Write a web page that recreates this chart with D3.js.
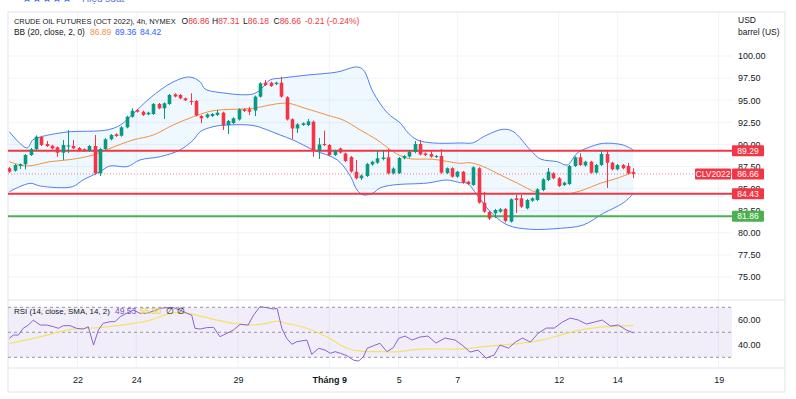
<!DOCTYPE html>
<html>
<head>
<meta charset="utf-8">
<script src="https://cdn.jsdelivr.net/npm/d3@7"></script>
<style>
    body { margin: 0; background: #fff; }
    svg { display: block; font-family: "Liberation Sans", Arial, sans-serif; }
</style>
</head>
<body>
<div id="chart"></div>
<script>
// 4h candles, [open, high, low, close]
const candles = [
    [87.30, 87.44, 86.76, 86.91], [87.03, 87.78, 86.91, 87.67], [87.56, 87.84, 87.22, 87.75], [87.75, 88.91, 87.18, 88.80],
    [88.80, 89.59, 88.69, 89.45], [89.45, 91.01, 89.35, 90.87], [90.84, 90.95, 89.82, 89.93], [90.05, 90.38, 89.71, 89.82],
    [89.85, 89.96, 89.42, 89.54], [89.67, 89.78, 88.61, 89.06], [89.06, 90.50, 88.24, 89.93], [89.76, 91.63, 89.03, 89.88],
    [89.82, 90.50, 89.48, 89.56], [89.59, 89.70, 89.20, 89.33], [89.45, 89.55, 89.13, 89.25], [89.25, 89.93, 89.14, 89.82],
    [89.82, 91.06, 86.60, 86.73], [86.73, 89.60, 86.43, 89.48], [89.48, 90.70, 89.37, 90.58], [90.58, 91.17, 90.47, 91.06],
    [91.14, 91.25, 90.84, 90.95], [90.98, 92.05, 90.87, 91.93], [91.93, 93.24, 91.82, 93.13], [93.13, 94.08, 93.02, 93.81],
    [93.89, 94.00, 93.60, 93.70], [93.70, 93.81, 93.22, 93.33], [93.40, 93.70, 93.30, 93.59], [93.44, 94.68, 93.33, 94.57],
    [94.57, 94.68, 93.97, 94.08], [94.08, 94.76, 92.87, 94.65], [94.57, 95.70, 94.46, 95.59], [95.67, 95.78, 95.31, 95.42],
    [95.59, 95.70, 95.10, 95.21], [95.21, 95.30, 94.90, 94.99], [94.91, 95.78, 94.46, 94.80], [94.91, 95.00, 93.16, 93.27],
    [93.21, 93.30, 92.39, 92.95], [93.07, 93.50, 92.95, 93.40], [93.21, 93.55, 93.10, 93.44], [93.33, 93.89, 93.22, 93.59],
    [93.59, 93.70, 91.63, 92.19], [92.19, 92.76, 91.18, 92.65], [92.42, 93.07, 92.30, 92.95], [92.82, 94.08, 92.70, 93.97],
    [93.97, 94.08, 93.67, 93.78], [93.97, 94.26, 93.33, 93.70], [93.83, 95.52, 93.21, 95.40], [95.40, 97.02, 95.29, 96.91],
    [96.98, 97.29, 96.60, 96.72], [96.98, 97.10, 96.50, 96.61], [96.83, 97.10, 96.70, 96.98], [96.98, 97.66, 95.29, 95.40],
    [95.33, 95.44, 92.70, 92.82], [92.84, 92.95, 90.61, 91.80], [91.80, 92.40, 91.29, 92.27], [92.19, 92.50, 92.10, 92.39],
    [92.19, 92.87, 92.08, 92.61], [92.57, 92.70, 88.61, 89.29], [89.29, 90.72, 88.35, 89.99], [90.05, 91.55, 89.80, 89.93],
    [89.93, 90.05, 88.69, 88.80], [88.80, 89.40, 88.69, 89.29], [89.54, 89.65, 88.97, 89.08], [88.97, 89.08, 88.00, 88.12],
    [88.57, 88.69, 86.80, 86.93], [86.91, 88.24, 86.03, 86.17], [86.17, 86.60, 85.98, 86.48], [86.43, 87.90, 86.30, 87.78],
    [87.73, 88.15, 87.60, 88.04], [87.93, 89.37, 87.80, 88.43], [88.35, 89.37, 88.20, 88.52], [88.54, 89.48, 86.60, 86.73],
    [86.73, 87.40, 86.60, 87.27], [86.76, 88.57, 86.65, 88.46], [88.43, 88.80, 88.30, 88.69], [88.63, 89.30, 88.50, 89.17],
    [89.14, 90.38, 89.00, 90.05], [90.05, 90.50, 88.75, 88.86], [88.97, 89.10, 88.69, 88.80], [88.91, 89.25, 88.50, 88.61],
    [88.57, 88.80, 88.46, 88.69], [88.69, 89.48, 86.68, 86.80], [86.76, 87.40, 86.65, 87.30], [87.30, 87.42, 86.23, 86.35],
    [86.35, 87.00, 86.23, 86.91], [86.91, 87.00, 85.55, 85.67], [85.78, 85.90, 85.40, 85.52], [85.41, 87.53, 85.30, 87.41],
    [87.30, 87.42, 83.30, 83.41], [83.41, 84.62, 82.27, 82.39], [82.35, 82.47, 81.45, 81.62], [82.21, 82.70, 81.67, 82.58],
    [82.39, 82.80, 82.27, 82.66], [82.69, 82.80, 81.17, 81.34], [81.26, 83.90, 81.15, 83.79], [83.90, 84.28, 82.24, 83.71],
    [83.90, 84.28, 82.80, 82.95], [82.77, 83.82, 82.65, 83.71], [83.63, 84.00, 83.50, 83.90], [83.71, 85.03, 83.60, 84.92],
    [84.84, 86.17, 84.70, 86.05], [85.97, 87.33, 85.85, 86.91], [86.73, 86.85, 86.05, 86.17], [86.17, 86.30, 85.18, 85.29],
    [85.41, 85.78, 85.30, 85.67], [85.52, 87.67, 85.40, 87.56], [87.56, 88.65, 87.45, 88.54], [88.54, 88.99, 87.56, 87.67],
    [87.62, 88.15, 87.50, 88.04], [88.04, 88.15, 86.68, 86.80], [86.80, 87.78, 86.68, 87.67], [87.67, 89.25, 87.56, 88.91],
    [88.91, 89.29, 85.07, 87.93], [87.93, 88.04, 87.07, 87.18], [87.18, 87.78, 87.07, 87.67], [87.67, 87.78, 87.18, 87.30],
    [87.56, 87.90, 86.60, 86.73], [86.86, 87.31, 86.18, 86.66]
];

// Bollinger bands (20, 2), [bar, value]
const bbUpper = [
    [0, 91.44], [3.3, 89.59], [4.4, 90.50], [5.8, 90.84], [10.8, 91.40], [18.3, 91.63], [20.8, 92.19], [23.2, 93.44],
    [26.4, 95.25], [30.7, 97.06], [33.9, 97.62], [35.8, 97.06], [36.7, 96.27], [39.5, 95.87], [45.7, 95.70], [47.4, 96.38],
    [48.9, 97.29], [51.2, 97.51], [56, 97.85], [61.5, 98.19], [65.2, 98.76], [66.4, 98.42], [68.2, 95.93], [70.9, 93.55],
    [73.3, 92.42], [74.8, 91.29], [76.5, 90.50], [79.5, 90.16], [84.6, 90.16], [87, 90.19], [88.9, 90.87], [92.6, 91.71],
    [94.5, 91.44], [97.7, 89.37], [99.6, 88.35], [102.8, 88.04], [104.6, 87.67], [106.5, 89.03], [109, 89.74],
    [111.4, 90.12], [115.1, 89.93], [117, 89.36]
];
const bbBasis = [
    [0, 88.04], [3.3, 87.56], [7.6, 88.04], [11.8, 88.31], [15.7, 88.80], [18.9, 89.56], [23.2, 90.50], [27, 91.06],
    [30.7, 92.19], [34.5, 93.13], [38.2, 93.81], [42, 93.97], [45.7, 94.08], [49.9, 94.57], [52.3, 94.65], [55.5, 94.08],
    [60.2, 93.21], [62.6, 92.76], [65.8, 91.63], [69, 90.50], [72, 89.17], [74.6, 88.43], [79.5, 88.31], [84.6, 87.86],
    [86.4, 87.93], [88.9, 87.48], [92.1, 86.54], [95.3, 85.60], [99, 84.54], [101.4, 84.39], [104.6, 84.39],
    [107.6, 84.84], [110.8, 85.60], [114, 86.17], [117, 86.89]
];
const bbLower = [
    [0, 84.65], [3.9, 85.60], [5.8, 85.29], [11.8, 85.21], [13.8, 85.97], [17, 86.91], [18.9, 87.56], [22.1, 87.48],
    [24.5, 88.24], [28.3, 88.61], [32, 89.37], [34.5, 90.50], [35.8, 91.44], [38.2, 92.00], [40.8, 92.19], [45.7, 92.14],
    [48.4, 91.63], [50.8, 91.06], [53.2, 90.50], [57, 89.37], [61.5, 88.24], [64, 86.35], [65.2, 84.84], [66.4, 84.28],
    [68.2, 84.50], [69.5, 85.07], [72, 85.41], [78.4, 85.63], [82.1, 85.97], [84.6, 85.67], [85.9, 85.60], [87.7, 84.28],
    [90.2, 82.39], [93.4, 80.88], [97.7, 80.40], [103.3, 80.51], [107.6, 80.88], [111.4, 82.21], [115.1, 83.37], [117, 84.42]
];

// RSI (14) and its SMA (14), [bar, value]
const rsiValues = [
    [0, 45.2], [0.75, 47.8], [1.7, 47.8], [2.6, 53.2], [3.6, 55.8], [4.5, 59.8], [5.8, 55.8], [7, 55.8], [8.3, 54.5],
    [9.2, 53.2], [10.1, 55.3], [11.4, 55.3], [12.6, 53.2], [13.9, 52.6], [14.8, 54.5], [15.8, 39.8], [16.7, 51.8],
    [17.6, 57.2], [18.9, 58.5], [19.8, 58.5], [20.8, 62.5], [22, 65.2], [23.3, 67.8], [24.5, 65.2], [25.8, 65.2],
    [27, 67.0], [28.3, 69.2], [29.5, 69.7], [30.8, 69.7], [32, 67.8], [33.3, 65.2], [34.2, 63.8], [34.8, 53.2],
    [35.8, 52.6], [37, 53.7], [38.3, 54.0], [39.5, 46.5], [40.8, 49.2], [42, 51.8], [43.3, 56.4], [44.8, 55.8],
    [45.8, 63.8], [47, 70.5], [48.3, 69.7], [49.5, 68.6], [50.2, 69.2], [51.1, 53.2], [52, 45.2], [53, 40.4],
    [53.9, 42.5], [55.8, 43.8], [56.7, 32.4], [58, 37.2], [59.2, 35.8], [60.2, 33.2], [61.1, 34.5], [62.1, 33.2],
    [63.3, 31.3], [64.5, 27.8], [65.5, 27.0], [66.4, 30.5], [67.1, 37.2], [68.3, 39.3], [69.5, 41.2], [70.8, 34.5],
    [72, 37.7], [73, 45.2], [74.2, 47.0], [75.5, 43.8], [77, 46.2], [78.5, 47.0], [80, 41.4], [81.7, 45.4],
    [83.6, 43.8], [84.9, 39.8], [86.4, 34.2], [87.9, 35.8], [89.4, 29.4], [90.9, 31.8], [92, 39.8], [93.6, 37.4],
    [94.9, 42.2], [96.2, 45.4], [97.7, 42.2], [99.2, 49.4], [100.7, 53.4], [102.2, 53.4], [103.7, 58.2], [105.2, 61.4],
    [106.7, 59.8], [108.2, 56.6], [109.7, 58.2], [111.2, 59.8], [112.7, 55.0], [114.2, 55.8], [115.7, 51.8], [117, 49.53]
];
const rsiSma = [
    [0, 41.2], [4.5, 45.2], [7.6, 48.4], [10.8, 51.8], [13.9, 53.2], [17, 53.7], [20.1, 55.3], [23.3, 57.2],
    [26.4, 59.8], [29.5, 64.4], [32, 66.0], [34.5, 64.4], [38.9, 59.8], [42, 57.2], [45.2, 55.8], [48.3, 57.2],
    [50.2, 59.0], [52, 57.2], [55.8, 53.2], [59.5, 46.5], [63.3, 37.2], [65.8, 35.0], [69.5, 34.5], [73, 34.5],
    [77, 36.6], [84.6, 36.6], [88.6, 38.3], [92.3, 39.8], [96.1, 41.4], [99.8, 43.8], [103.3, 47.8], [107, 51.8],
    [110.8, 54.2], [114.6, 55.0], [117, 55.5]
];

const priceTicks = [75, 77.5, 80, 82.5, 85, 87.5, 90, 92.5, 95, 97.5, 100];
const rsiTicks = [40, 60];
const rsiLevels = [70, 50, 30];
const dateTicks = [
    { bar: 12.8, label: "22" }, { bar: 23.8, label: "24" }, { bar: 42.9, label: "29" },
    { bar: 60, label: "Tháng 9" }, { bar: 73, label: "5" }, { bar: 84, label: "7" },
    { bar: 103, label: "12" }, { bar: 114, label: "14" }, { bar: 133, label: "19" }
];
const resistanceLevels = [89.29, 84.43];
const supportLevels = [81.86];
const lastPrice = 86.66;
const prevClose = 86.87;
const symbol = "CLV2022";

const UP = "#089981", DOWN = "#F23645", TXT = "#131722", GRID = "#f0f3fa", BORDER = "#e0e3eb";
const LEGEND_FONT = "'Liberation Sans Narrow', 'Liberation Sans', Arial, sans-serif";
const plot = { left: 8, right: 732, top: 12, mainBottom: 300, rsiBottom: 368, axisBottom: 392 };

const svg = d3.select("#chart").append("svg")
    .attr("width", 796)
    .attr("height", 399);

const x = d3.scaleLinear().domain([0, candles.length - 1]).range([9.3, 633.3]);
const y = d3.scaleLinear().domain([75, 100]).range([277, 56]);
const yr = d3.scaleLinear().domain([30, 70]).range([357.3, 307.3]);

// header strip, cut off at the very top like in the screenshot
svg.append("text").attr("x", 22).attr("y", 2).attr("font-size", 11).attr("fill", "#2962FF").text("★★★★★");
svg.append("text").attr("x", 82).attr("y", 2).attr("font-size", 10).attr("fill", "#5b7bd5").text("Hiệu suất");

// frame + grid
svg.append("rect")
    .attr("x", plot.left).attr("y", plot.top)
    .attr("width", 785 - plot.left).attr("height", plot.axisBottom - plot.top)
    .attr("fill", "none").attr("stroke", BORDER);
svg.append("g").selectAll("line")
    .data(priceTicks)
    .join("line")
    .attr("x1", plot.left).attr("x2", plot.right)
    .attr("y1", (d) => y(d)).attr("y2", (d) => y(d))
    .attr("stroke", GRID);
svg.append("g").selectAll("line")
    .data(dateTicks)
    .join("line")
    .attr("x1", (d) => x(d.bar)).attr("x2", (d) => x(d.bar))
    .attr("y1", plot.top).attr("y2", plot.rsiBottom)
    .attr("stroke", GRID);
svg.append("line")
    .attr("x1", plot.left).attr("x2", 785)
    .attr("y1", plot.mainBottom).attr("y2", plot.mainBottom)
    .attr("stroke", BORDER);
svg.append("line")
    .attr("x1", plot.left).attr("x2", 785)
    .attr("y1", plot.rsiBottom).attr("y2", plot.rsiBottom)
    .attr("stroke", BORDER);

svg.append("clipPath").attr("id", "main-clip")
    .append("rect")
    .attr("x", plot.left).attr("y", plot.top)
    .attr("width", plot.right - plot.left).attr("height", plot.mainBottom - plot.top);
const g = svg.append("g").attr("clip-path", "url(#main-clip)");

// bollinger bands
const band = d3.line().x((d) => x(d[0])).y((d) => y(d[1])).curve(d3.curveCatmullRom.alpha(0.5));
g.append("path")
    .attr("d", band(bbUpper) + "L" + band(bbLower.slice().reverse()).slice(1) + "Z")
    .attr("fill", "rgba(33,150,243,0.07)");
g.append("path").attr("d", band(bbUpper)).attr("fill", "none").attr("stroke", "#4f7ff2").attr("stroke-width", 1);
g.append("path").attr("d", band(bbLower)).attr("fill", "none").attr("stroke", "#4f7ff2").attr("stroke-width", 1);
g.append("path").attr("d", band(bbBasis)).attr("fill", "none").attr("stroke", "#f7903a").attr("stroke-width", 1);

// levels
g.selectAll("line.res")
    .data(resistanceLevels)
    .join("line")
    .attr("class", "res")
    .attr("x1", plot.left).attr("x2", plot.right)
    .attr("y1", (d) => y(d)).attr("y2", (d) => y(d))
    .attr("stroke", DOWN).attr("stroke-width", 2);
g.selectAll("line.sup")
    .data(supportLevels)
    .join("line")
    .attr("class", "sup")
    .attr("x1", plot.left).attr("x2", plot.right)
    .attr("y1", (d) => y(d)).attr("y2", (d) => y(d))
    .attr("stroke", "#4CAF50").attr("stroke-width", 2);
g.append("line")
    .attr("x1", plot.left).attr("x2", plot.right)
    .attr("y1", y(lastPrice)).attr("y2", y(lastPrice))
    .attr("stroke", DOWN).attr("stroke-opacity", 0.6).attr("stroke-dasharray", "1,2");

// candles
const candle = g.selectAll("g.candle")
    .data(candles)
    .join("g")
    .attr("class", "candle")
    .attr("fill", (d) => d[3] >= d[0] ? UP : DOWN)
    .attr("stroke", (d) => d[3] >= d[0] ? UP : DOWN);
candle.append("line")
    .attr("x1", (d, i) => Math.round(x(i)) + 0.5).attr("x2", (d, i) => Math.round(x(i)) + 0.5)
    .attr("y1", (d) => y(d[1])).attr("y2", (d) => y(d[2]))
    .attr("stroke-width", 1);
candle.append("rect")
    .attr("x", (d, i) => Math.round(x(i)) - 1.3)
    .attr("width", 3.6)
    .attr("y", (d) => y(Math.max(d[0], d[3])))
    .attr("height", (d) => Math.max(1, Math.abs(y(d[0]) - y(d[3]))))
    .attr("stroke", "none");

// price axis
const priceAxis = svg.append("g")
    .attr("transform", `translate(${plot.right + 2},0)`)
    .call(d3.axisRight(y).tickValues(priceTicks).tickSize(0).tickPadding(4).tickFormat(d3.format(".2f")));
priceAxis.select(".domain").remove();
priceAxis.selectAll("text").attr("font-size", 9).attr("fill", TXT).attr("font-family", "Liberation Sans, Arial");
svg.append("text").attr("x", 738).attr("y", 23).attr("font-size", 8.5).attr("fill", TXT).text("USD");
svg.append("text").attr("x", 738).attr("y", 35).attr("font-size", 8.5).attr("fill", TXT).text("barrel (US)");

function priceTag(left, width, value, color, label) {
    svg.append("rect")
        .attr("x", left).attr("y", y(value) - 5.5)
        .attr("width", width).attr("height", 11)
        .attr("rx", 1)
        .attr("fill", color);
    svg.append("text")
        .attr("x", left + width / 2).attr("y", y(value))
        .attr("dy", "0.35em")
        .attr("text-anchor", "middle")
        .attr("font-size", 8.5)
        .attr("fill", "#fff")
        .text(label);
}
resistanceLevels.forEach((p) => priceTag(732, 32, p, DOWN, p.toFixed(2)));
supportLevels.forEach((p) => priceTag(732, 32, p, "#4CAF50", p.toFixed(2)));
priceTag(695, 36, lastPrice, DOWN, symbol);
priceTag(732, 32, lastPrice, DOWN, lastPrice.toFixed(2));

// legends: plain text nodes, shrunk to the width they take in the screenshot
function legendText(xPos, yPos, str, color, maxWidth) {
    const t = svg.append("text")
        .attr("x", xPos).attr("y", yPos)
        .attr("dy", "0.35em")
        .attr("font-size", 8.5)
        .attr("font-family", LEGEND_FONT)
        .attr("fill", color)
        .text(str);
    const w = t.node().getComputedTextLength();
    if (maxWidth && w > maxWidth) t.attr("font-size", 8.5 * maxWidth / w);
    return xPos + t.node().getComputedTextLength();
}
// label + value pairs laid out left to right
function legendRow(xPos, yPos, pairs) {
    pairs.forEach(([label, value, color, at]) => {
        let cx = at !== undefined ? at : xPos;
        if (label) cx = legendText(cx, yPos, label, TXT);
        xPos = legendText(cx, yPos, value, color) + 5;
    });
}

const last = candles[candles.length - 1];
const change = last[3] - prevClose;
legendText(14, 21.5, "CRUDE OIL FUTURES (OCT 2022), 4h, NYMEX", TXT, 162);
legendRow(181.5, 21.5, [
    ["O", last[0].toFixed(2), DOWN, 181.5],
    ["H", last[1].toFixed(2), DOWN, 212],
    ["L", last[2].toFixed(2), DOWN, 243],
    ["C", last[3].toFixed(2), DOWN, 273.5],
    ["", `${change.toFixed(2)} (${(change / prevClose * 100).toFixed(2)}%)`, DOWN, 305]
]);
legendText(14, 32.5, "BB (20, close, 2, 0)", TXT, 71);
legendRow(90, 32.5, [
    ["", bbBasis[bbBasis.length - 1][1].toFixed(2), "#f7903a", 90],
    ["", bbUpper[bbUpper.length - 1][1].toFixed(2), "#2962FF", 115],
    ["", bbLower[bbLower.length - 1][1].toFixed(2), "#2962FF", 140]
]);

// RSI pane
const r = svg.append("g");
r.append("rect")
    .attr("x", plot.left).attr("width", plot.right - plot.left)
    .attr("y", yr(70)).attr("height", yr(30) - yr(70))
    .attr("fill", "rgba(126,87,194,0.1)");
r.selectAll("line.lvl")
    .data(rsiLevels)
    .join("line")
    .attr("class", "lvl")
    .attr("x1", plot.left).attr("x2", plot.right)
    .attr("y1", (d) => yr(d)).attr("y2", (d) => yr(d))
    .attr("stroke", "#9598a1").attr("stroke-dasharray", "3,3");
r.append("path")
    .attr("d", d3.line().x((d) => x(d[0])).y((d) => yr(d[1])).curve(d3.curveCatmullRom.alpha(0.5))(rsiSma))
    .attr("fill", "none").attr("stroke", "#f5e16a").attr("stroke-width", 1.2);
r.append("path")
    .attr("d", d3.line().x((d) => x(d[0])).y((d) => yr(d[1]))(rsiValues))
    .attr("fill", "none").attr("stroke", "#8a63d2").attr("stroke-width", 1);
const rsiAxis = svg.append("g")
    .attr("transform", `translate(${plot.right + 2},0)`)
    .call(d3.axisRight(yr).tickValues(rsiTicks).tickSize(0).tickPadding(4).tickFormat(d3.format(".2f")));
rsiAxis.select(".domain").remove();
rsiAxis.selectAll("text").attr("font-size", 9).attr("fill", TXT).attr("font-family", "Liberation Sans, Arial");

legendText(14, 311, "RSI (14, close, SMA, 14, 2)", TXT, 96);
legendRow(115, 311, [
    ["", rsiValues[rsiValues.length - 1][1].toFixed(2), "#7E57C2", 115],
    ["", rsiSma[rsiSma.length - 1][1].toFixed(2), "#e6cf2c", 140],
    ["", "∅", TXT, 166],
    ["", "∅", TXT, 177]
]);

// time axis
const timeAxis = svg.append("g")
    .attr("transform", `translate(0,${plot.rsiBottom})`)
    .call(d3.axisBottom(x).tickValues(dateTicks.map((d) => d.bar)).tickSize(0).tickPadding(9)
        .tickFormat((d) => dateTicks.find((t) => t.bar === d).label));
timeAxis.select(".domain").remove();
timeAxis.selectAll("text")
    .attr("font-size", 9)
    .attr("fill", TXT)
    .attr("font-family", "Liberation Sans, Arial")
    .attr("font-weight", (d) => d === 60 ? "bold" : "normal");
</script>
</body>
</html>
